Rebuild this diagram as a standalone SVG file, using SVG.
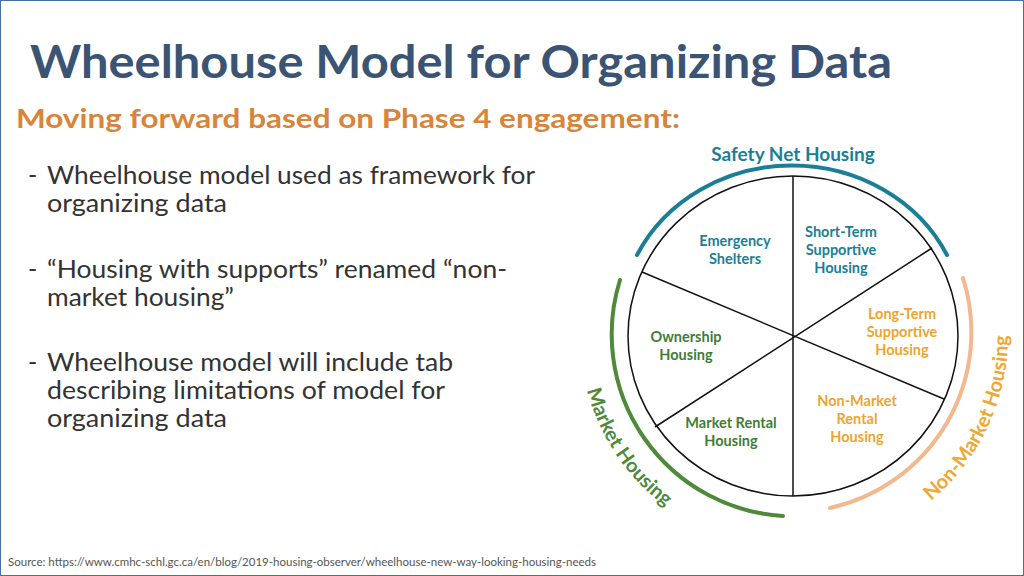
<svg xmlns="http://www.w3.org/2000/svg" width="1024" height="576" viewBox="0 0 1024 576">
<style>
text{font-family:Lato,"Noto Sans",sans-serif}
.b{font-size:25px;fill:#333}
.l{font-size:14.5px;font-weight:bold;text-anchor:middle}
.t{fill:#1a7f96}.o{fill:#eea52e}.g{fill:#3f7d36}
.arc{fill:none;stroke-width:4;stroke-linecap:round}
</style>
<rect x="0.5" y="0.5" width="1023" height="575" fill="#fff" stroke="#4a6fa5"/>
<text x="30" y="78" font-size="46" font-weight="bold" fill="#3b5473" textLength="862" lengthAdjust="spacingAndGlyphs">Wheelhouse Model for Organizing Data</text>
<text x="16" y="128" font-size="26" font-weight="bold" fill="#d8843a" textLength="664" lengthAdjust="spacingAndGlyphs">Moving forward based on Phase 4 engagement:</text>
<g id="bullets">
<text class="b" x="28" y="184">-</text><text class="b" x="47" y="184" textLength="488" lengthAdjust="spacingAndGlyphs">Wheelhouse model used as framework for</text>
<text class="b" x="47" y="212" textLength="180" lengthAdjust="spacingAndGlyphs">organizing data</text>
<text class="b" x="28" y="278">-</text><text class="b" x="47" y="278" textLength="460" lengthAdjust="spacingAndGlyphs">“Housing with supports” renamed “non-</text>
<text class="b" x="47" y="306" textLength="187" lengthAdjust="spacingAndGlyphs">market housing”</text>
<text class="b" x="28" y="371">-</text><text class="b" x="47" y="371" textLength="406" lengthAdjust="spacingAndGlyphs">Wheelhouse model will include tab</text>
<text class="b" x="47" y="399" textLength="398" lengthAdjust="spacingAndGlyphs">describing limitations of model for</text>
<text class="b" x="47" y="427" textLength="180" lengthAdjust="spacingAndGlyphs">organizing data</text>
</g>
<g id="wheel" stroke="#111" stroke-width="1.5" fill="none">
<ellipse cx="793" cy="336" rx="165" ry="160"/>
<line x1="793" y1="176" x2="793" y2="496"/>
<line x1="642" y1="272" x2="944" y2="399"/>
<line x1="932" y1="248" x2="655" y2="427"/>
</g>
<g id="connectors">
<path class="arc" stroke="#1a7f96" d="M637,255 A172,158 0 0 1 947,255"/>
<path class="arc" stroke="#4f8a3a" d="M620,280 A182,182 0 0 0 783,516"/>
<path class="arc" stroke="#f2b88f" d="M963,278 A180,180 0 0 1 830,508"/>
<path id="pm" fill="none" d="M580.8,354.6 A213,213 0 0 0 696.3,525.8"/>
<path id="pn" fill="none" d="M916.3,512.1 A215,215 0 0 0 1007.2,317.3"/>
</g>
<text x="793" y="161" font-size="19" font-weight="bold" fill="#1a7f96" text-anchor="middle">Safety Net Housing</text>
<text font-size="20" font-weight="bold" fill="#4f8a3a" text-anchor="middle"><textPath href="#pm" startOffset="50%">Market Housing</textPath></text>
<text font-size="20" font-weight="bold" fill="#f0a830" text-anchor="middle"><textPath href="#pn" startOffset="50%">Non-Market Housing</textPath></text>
<g id="n1"><text class="l t" x="735" y="246">Emergency</text><text class="l t" x="735" y="264">Shelters</text></g>
<g id="n2"><text class="l t" x="841" y="237">Short-Term</text><text class="l t" x="841" y="255">Supportive</text><text class="l t" x="841" y="273">Housing</text></g>
<g id="n3"><text class="l o" x="902" y="319">Long-Term</text><text class="l o" x="902" y="337">Supportive</text><text class="l o" x="902" y="355">Housing</text></g>
<g id="n4"><text class="l o" x="857" y="406">Non-Market</text><text class="l o" x="857" y="424">Rental</text><text class="l o" x="857" y="442">Housing</text></g>
<g id="n5"><text class="l g" x="731" y="428">Market Rental</text><text class="l g" x="731" y="446">Housing</text></g>
<g id="n6"><text class="l g" x="686" y="342">Ownership</text><text class="l g" x="686" y="360">Housing</text></g>
<text x="8" y="566" font-size="11" fill="#555" textLength="588" lengthAdjust="spacingAndGlyphs">Source: https://www.cmhc-schl.gc.ca/en/blog/2019-housing-observer/wheelhouse-new-way-looking-housing-needs</text>
</svg>
